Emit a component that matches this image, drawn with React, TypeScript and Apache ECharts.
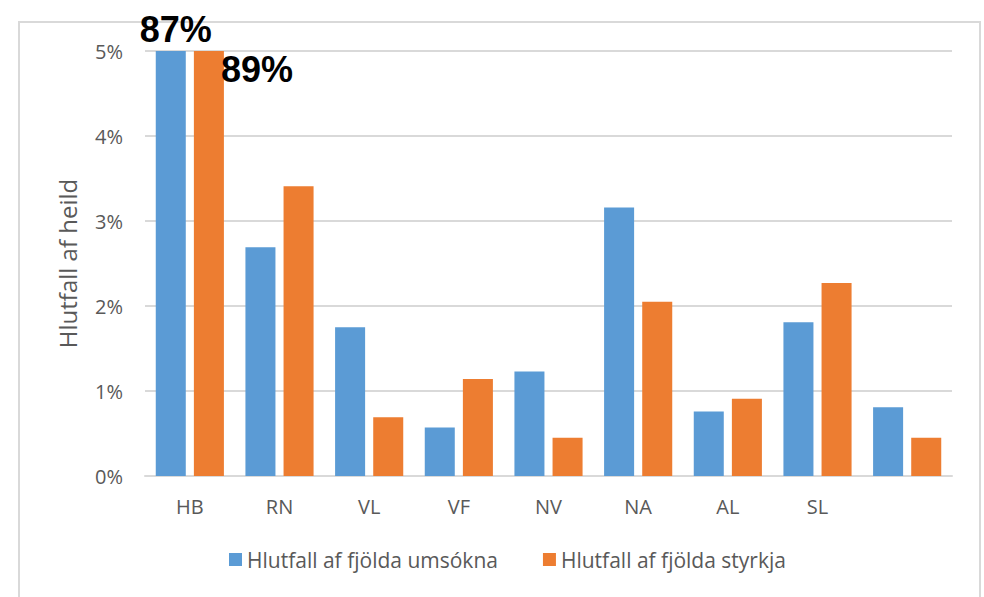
import React, { useEffect, useRef } from "react";
import * as echarts from "echarts";

const categories = ["HB", "RN", "VL", "VF", "NV", "NA", "AL", "SL", ""];
const umsoknir = [87, 2.69, 1.75, 0.57, 1.23, 3.16, 0.76, 1.81, 0.81];
const styrkir = [89, 3.41, 0.69, 1.14, 0.45, 2.05, 0.91, 2.27, 0.45];
const seriesNames = ["Hlutfall af fjölda umsókna", "Hlutfall af fjölda styrkja"];
const yTitle = "Hlutfall af heild";

const FONT = "'Open Sans', sans-serif";
const GREY = "#595959";

export default function App() {
  const ref = useRef<HTMLDivElement>(null);
  useEffect(() => {
    if (!ref.current) return;
    const chart = echarts.init(ref.current, null, { renderer: "svg" });
    const bigLabel = {
      show: true,
      fontFamily: "'Liberation Sans', Arial, sans-serif",
      fontWeight: "bold",
      fontSize: 36,
      color: "#000",
    };
    const blueData = umsoknir.map((v, i) =>
      i === 0
        ? { value: v, label: { ...bigLabel, position: "top", distance: 4, offset: [5, 0], formatter: "{c}%" } }
        : v
    );
    const orangeData = styrkir.map((v, i) =>
      i === 0
        ? {
            value: v,
            label: {
              ...bigLabel,
              position: ["100%", 0],
              align: "left",
              verticalAlign: "top",
              offset: [-3, 0],
              formatter: "{c}%",
            },
          }
        : v
    );
    chart.setOption({
      animation: false,
      backgroundColor: "#fff",
      textStyle: { fontFamily: FONT },
      graphic: [
        {
          type: "rect",
          shape: { x: 19, y: 22, width: 961, height: 620 },
          style: { fill: "none", stroke: "#d9d9d9", lineWidth: 2 },
          z: -1,
        },
      ],
      grid: { left: 145, right: 32, top: 51, bottom: 121, containLabel: false },
      legend: {
        data: seriesNames,
        bottom: 22,
        left: 224,
        itemWidth: 13,
        itemHeight: 13,
        itemGap: 45,
        icon: "rect",
        textStyle: { fontFamily: FONT, fontSize: 21, color: GREY },
      },
      xAxis: {
        type: "category",
        data: categories,
        axisLine: { lineStyle: { color: "#d9d9d9", width: 2 } },
        axisTick: { show: false },
        axisLabel: { fontFamily: FONT, fontSize: 20, color: GREY, margin: 20 },
      },
      yAxis: {
        type: "value",
        min: 0,
        max: 5,
        interval: 1,
        name: yTitle,
        nameLocation: "middle",
        nameGap: 66,
        nameTextStyle: { fontFamily: FONT, fontSize: 24, color: GREY },
        axisLine: { show: false },
        axisTick: { show: false },
        splitLine: { lineStyle: { color: "#d9d9d9", width: 2 } },
        axisLabel: { fontFamily: FONT, fontSize: 20, color: GREY, margin: 22, formatter: "{value}%" },
      },
      series: [
        {
          name: seriesNames[0],
          type: "bar",
          data: blueData,
          clip: true,
          itemStyle: { color: "#5B9BD5" },
          barGap: "27%",
          barCategoryGap: "24%",
        },
        {
          name: seriesNames[1],
          type: "bar",
          data: orangeData,
          clip: true,
          itemStyle: { color: "#ED7D31" },
          barGap: "27%",
          barCategoryGap: "24%",
        },
      ],
    });
    return () => chart.dispose();
  }, []);
  return (
    <div
      ref={ref}
      style={{ position: "fixed", left: 0, top: 0, width: 984, height: 597 }}
    />
  );
}
